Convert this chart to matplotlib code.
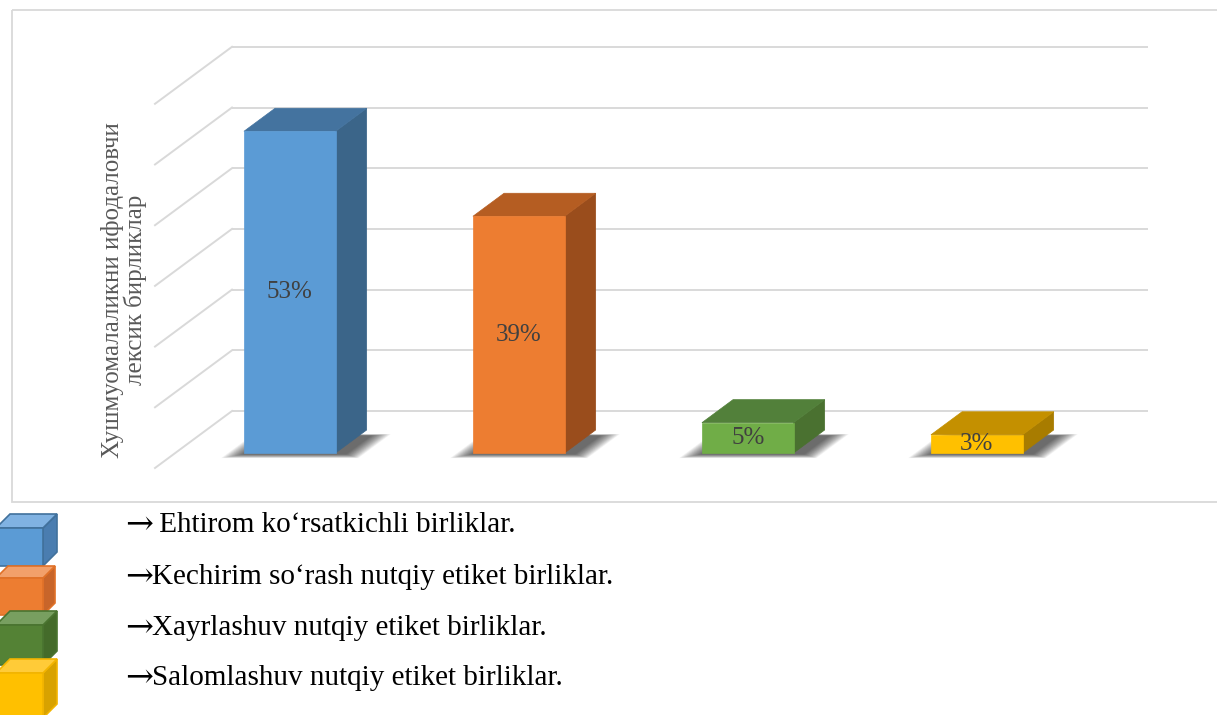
import matplotlib.pyplot as plt
from matplotlib.patches import Polygon, Rectangle
import numpy as np

# data
categories = ["Ehtirom ko‘rsatkichli birliklar",
              "Kechirim so‘rash nutqiy etiket birliklar",
              "Xayrlashuv nutqiy etiket birliklar",
              "Salomlashuv nutqiy etiket birliklar"]
values = [53, 39, 5, 3]
value_labels = ["53%", "39%", "5%", "3%"]
legend_texts = [" Ehtirom ko‘rsatkichli birliklar.",
                "Kechirim so‘rash nutqiy etiket birliklar.",
                "Xayrlashuv nutqiy etiket birliklar.",
                "Salomlashuv nutqiy etiket birliklar."]
grid_values = [0, 10, 20, 30, 40, 50, 60]
y_title = "Хушмуомалаликни ифодаловчи\nлексик бирликлар"

# colours: front, top, side
front_cols = ["#5B9BD5", "#ED7D31", "#70AD47", "#FFC000"]
top_cols = ["#44739F", "#B55D22", "#52803A", "#C49000"]
side_cols = ["#3B6589", "#9A4D1C", "#4A7130", "#A87C00"]

SERIF = ["Liberation Serif", "DejaVu Serif"]

W, H = 1217, 715
fig = plt.figure(figsize=(W / 100, H / 100), dpi=100)

# oblique projection: depth z goes 0 (back wall) .. 1 (front of floor)
DX = 77 / 229.0      # slots
DY = 57 / 6.07       # percent
BAR_W = 0.40
Z0, Z1 = 0.333, 0.737


def proj(x, v, z):
    return (x - z * DX, v - z * DY)


ax = fig.add_axes([0, 0, 1, 1])
ax.set_xlim(-346.5 / 229, (W - 346.5) / 229)
ax.set_ylim((411 - H) / 6.07, 411 / 6.07)
ax.axis("off")

# outer chart border (figure pixels)
pix = fig.add_axes([0, 0, 1, 1], zorder=-1)
pix.set_xlim(0, W)
pix.set_ylim(H, 0)
pix.axis("off")
pix.add_patch(Rectangle((12, 10), W, 492, fill=False, ec="#D9D9D9", lw=1.3))

# back wall and left wall grid
n = len(values)
for g in grid_values:
    ax.plot([-0.5, n - 0.5], [g, g], color="#D9D9D9", lw=1.4, zorder=1,
            solid_capstyle="butt")
    p0 = proj(-0.5, g, 0)
    p1 = proj(-0.5, g, 1)
    ax.plot([p0[0], p1[0]], [p0[1], p1[1]], color="#D9D9D9", lw=1.4, zorder=1)

# bars
for k, (val, lab) in enumerate(zip(values, value_labels)):
    xl, xr = k - BAR_W / 2, k + BAR_W / 2
    # soft shadow on the floor
    nl = 20
    for j in range(nl):
        f = 1 - j / float(nl)
        ex = 0.08 * f
        ez = 0.07 * f
        pts = [proj(xl - ex + 0.01, 0, Z1 + 0.02 + ez),
               proj(xr + 0.05 + ex, 0, Z1 + 0.02 + ez),
               proj(xr + 0.05 + ex, 0, Z0 + 0.1 - ez * 0.4),
               proj(xl - ex + 0.01, 0, Z0 + 0.1 - ez * 0.4)]
        ax.add_patch(Polygon(pts, closed=True, fc="black", ec="none",
                             alpha=0.04, zorder=2))
    front = [proj(xl, 0, Z1), proj(xr, 0, Z1), proj(xr, val, Z1), proj(xl, val, Z1)]
    top = [proj(xl, val, Z1), proj(xr, val, Z1), proj(xr, val, Z0), proj(xl, val, Z0)]
    side = [proj(xr, 0, Z1), proj(xr, 0, Z0), proj(xr, val, Z0), proj(xr, val, Z1)]
    ax.add_patch(Polygon(side, closed=True, fc=side_cols[k], ec=side_cols[k], lw=0.5, zorder=3))
    ax.add_patch(Polygon(top, closed=True, fc=top_cols[k], ec=top_cols[k], lw=0.5, zorder=3))
    ax.add_patch(Polygon(front, closed=True, fc=front_cols[k], ec=front_cols[k], lw=0.5, zorder=4))
    cx, cy = proj(k, val / 2.0, Z1)
    ax.text(cx, cy, lab, ha="center", va="center", fontsize=18,
            color="#404040", family=SERIF, zorder=5)

# axis title
fig.text(124 / W, 1 - 290 / H, y_title, rotation=90, ha="center", va="center",
         multialignment="center", fontsize=18, color="#595959",
         family=SERIF, linespacing=0.98)

# legend: cube icons + texts
cube_top = [528, 578, 625, 673]
cube_bot = [566, 615, 665, 718]
cube_d = [14, 12, 14, 14]
cube_front = ["#5B9BD5", "#ED7D31", "#548235", "#FFC000"]
cube_lid = ["#80B2E2", "#F2A06A", "#789F60", "#FFCB38"]
cube_side = ["#4A7DB0", "#C8652A", "#446B2A", "#D8A200"]
cube_edge = ["#41719C", "#E07128", "#4A7430", "#F2B400"]
for i in range(4):
    x0, x1 = -4, 43
    t, b, d = cube_top[i], cube_bot[i], cube_d[i]
    pix.add_patch(Polygon([(x1, t), (x1 + d, t - d), (x1 + d, b - d), (x1, b)],
                          fc=cube_side[i], ec=cube_edge[i], lw=1.2))
    pix.add_patch(Polygon([(x0, t), (x1, t), (x1 + d, t - d), (x0 + d, t - d)],
                          fc=cube_lid[i], ec=cube_edge[i], lw=1.2))
    pix.add_patch(Polygon([(x0, t), (x1, t), (x1, b), (x0, b)],
                          fc=cube_front[i], ec=cube_edge[i], lw=1.2))

legend_y = [525, 577, 628, 678]
for txt, yy in zip(legend_texts, legend_y):
    fig.text(125 / W, 1 - yy / H, "→", ha="left", va="center", fontsize=24,
             color="black", family="DejaVu Serif")
    fig.text(152 / W, 1 - yy / H, txt, ha="left", va="center", fontsize=21,
             color="black", family=SERIF)

fig.savefig("out.png", dpi=100)
